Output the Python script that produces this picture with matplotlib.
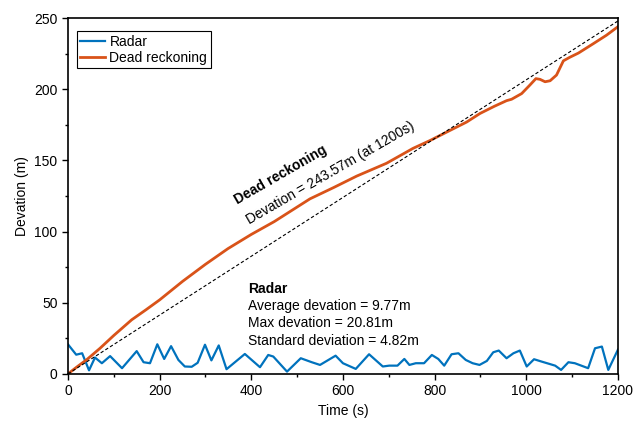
import matplotlib
matplotlib.use("Agg")
import matplotlib.pyplot as plt
from matplotlib.ticker import MultipleLocator

plt.rcParams['font.family'] = ['Liberation Sans', 'DejaVu Sans']
plt.rcParams['font.size'] = 10

# Radar deviation samples (time in s, deviation in m)
radar_t = [0, 18, 31, 46, 59, 74, 92, 118, 150, 165, 179, 195, 210, 225, 241,
           255, 270, 283, 299, 313, 329, 346, 386, 419, 437, 448, 478, 508,
           532, 550, 584, 600, 628, 657, 687, 701, 719, 734, 745, 759, 777,
           794, 808, 821, 837, 852, 868, 883, 898, 914, 928, 940, 957, 972,
           986, 1001, 1017, 1034, 1063, 1076, 1092, 1106, 1135, 1150, 1165,
           1179, 1200]
radar_v = [20.8, 13.5, 14.5, 2.5, 11.5, 7.5, 12.5, 4.0, 16.0, 8.2, 7.5, 20.8,
           10.5, 19.5, 9.8, 5.2, 5.0, 7.8, 20.5, 9.5, 20.0, 3.3, 14.0, 4.7,
           13.3, 12.2, 1.6, 11.0, 8.2, 6.3, 12.8, 7.5, 3.5, 13.8, 5.2, 5.8,
           5.8, 10.5, 6.3, 7.5, 7.5, 13.3, 10.5, 5.8, 13.8, 14.5, 9.8, 7.5,
           6.3, 9.1, 15.2, 16.4, 11.0, 14.5, 16.4, 5.2, 10.3, 8.6, 5.8, 2.8,
           8.2, 7.5, 4.0, 18.0, 19.2, 2.8, 17.0]

# Dead reckoning deviation
dr_t = [0, 20, 41, 70, 100, 139, 170, 200, 250, 300, 349, 400, 450, 528, 580,
        630, 695, 753, 790, 833, 870, 899, 930, 957, 968, 990, 1008, 1021,
        1030, 1041, 1052, 1066, 1081, 1095, 1114, 1146, 1175, 1200]
dr_v = [0, 5, 10, 18, 27, 38, 45, 52, 65, 77, 88, 98, 107, 123, 131, 139,
        148, 158.5, 164, 171, 177, 183, 188, 192, 193, 197, 203, 207.5, 207,
        205.3, 206, 210, 220, 222.5, 225.5, 232, 238, 244]

# reference straight line
ref_t = [0, 1200]
ref_v = [0, 248]

fig = plt.figure(figsize=(6.41, 4.22), dpi=100)
ax = fig.add_axes([0.106, 0.114, 0.858, 0.843])

ax.plot(radar_t, radar_v, color='#0072BD', lw=1.6, label='Radar')
ax.plot(dr_t, dr_v, color='#D95319', lw=2.0, label='Dead reckoning')
ax.plot(ref_t, ref_v, color='black', lw=0.8, ls=(0, (3, 2)))

ax.set_xlim(0, 1200)
ax.set_ylim(0, 250)
ax.xaxis.set_major_locator(MultipleLocator(200))
ax.xaxis.set_minor_locator(MultipleLocator(100))
ax.yaxis.set_major_locator(MultipleLocator(50))
ax.yaxis.set_minor_locator(MultipleLocator(25))
ax.tick_params(which='major', direction='out', length=4, width=1)
ax.tick_params(which='minor', direction='out', length=2.5, width=1)
for s in ax.spines.values():
    s.set_linewidth(1.2)

ax.set_xlabel('Time (s)')
ax.set_ylabel('Devation (m)')

leg = ax.legend(loc='upper left', bbox_to_anchor=(0.016, 0.963), fancybox=False,
                edgecolor='black', framealpha=1, borderpad=0.25,
                handlelength=1.8, handletextpad=0.3, labelspacing=0.15,
                borderaxespad=0.0)
leg.get_frame().set_linewidth(0.8)

ax.text(370, 119, 'Dead reckoning', rotation=30, rotation_mode='anchor',
        fontweight='bold', ha='left', va='baseline')
ax.text(396, 105, 'Devation = 243.57m (at 1200s)', rotation=30,
        rotation_mode='anchor', ha='left', va='baseline')

ax.text(393, 60, 'Radar', fontweight='bold', ha='left', va='center')
ax.text(393, 48, 'Average devation = 9.77m', ha='left', va='center')
ax.text(393, 35.5, 'Max devation = 20.81m', ha='left', va='center')
ax.text(393, 23, 'Standard deviation = 4.82m', ha='left', va='center')

fig.savefig('out.png', dpi=100)
